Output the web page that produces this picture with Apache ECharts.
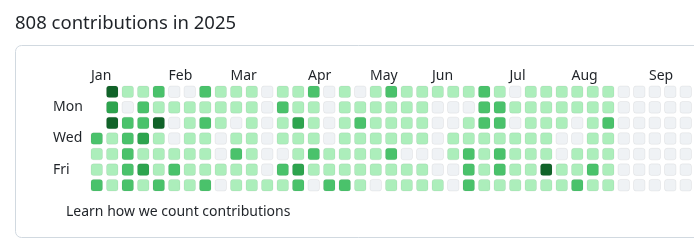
<!DOCTYPE html>
<html>
<head>
<meta charset="utf-8">
<style>
html,body{margin:0;padding:0;background:#fff;}
#chart{width:694px;height:241px;}
</style>
<script src="https://cdn.jsdelivr.net/npm/echarts@6/dist/echarts.min.js"></script>
</head>
<body>
<div id="chart"></div>
<script>
// Contribution level per day (0-4), one array per weekday row (Sun..Sat), one entry per week column.
// null = before Jan 1.
const sun = [null,4,1,1,2,0,0, 2,1,1,1,0,1,1, 2,0,1,0,1,2,1, 1,1,1,1,2,1,0, 1,1,1,1,1,1, 0,0,0,0,0];
const mon = [null,3,0,2,1,1,1, 1,1,1,1,0,2,1, 1,0,1,1,1,1,1, 1,0,0,0,2,2,1, 1,1,1,1,1,1, 0,0,0,0,0];
const tue = [null,4,2,2,4,0,1, 2,1,0,1,0,1,3, 1,0,1,2,1,1,1, 1,0,0,1,2,2,0, 1,1,1,0,1,2, 0,0,0,0,0];
const wed = [2,1,2,3,1,0,1, 1,0,1,1,0,1,1, 1,0,1,1,1,1,1, 1,0,1,1,1,1,1, 1,1,0,0,1,1, 0,0,0,0,0];
const thu = [1,1,2,1,1,1,1, 1,0,2,1,0,0,1, 2,1,1,1,1,2,0, 0,0,1,2,1,2,1, 1,1,0,1,1,1, 0,0,0,0,0];
const fri = [1,1,2,3,1,2,1, 1,1,1,1,0,2,3, 1,1,1,1,1,1,1, 1,0,0,2,1,2,1, 1,4,1,1,2,1, 0,0,0,0,0];
const sat = [2,1,2,1,2,1,1, 2,0,1,1,1,1,2, 0,2,2,1,0,1,1, 1,1,0,2,1,1,1, 1,1,1,2,1,1, 0,0,0,0,0];
const rows = [sun, mon, tue, wed, thu, fri, sat];

const monthLabels = ['Jan','Feb','Mar','Apr','May','Jun','Jul','Aug','Sep'];
const monthCols   = [0, 5, 9, 14, 18, 22, 27, 31, 36];
const dayLabels = ['Mon','Wed','Fri'];
const dayRows   = [1, 3, 5];
const levelColors = ['#eff2f5','#aceebb','#4ac26b','#2da44e','#116329'];

const weeks = sun.length;
const data = [];
rows.forEach((r, d) => r.forEach((v, w) => { if (v !== null) data.push([w, d, v]); }));

const font = '"Noto Sans", "Open Sans", sans-serif';
const chart = echarts.init(document.getElementById('chart'));
chart.setOption({
  animation: false,
  title: [
    {text: '808 contributions in 2025', left: 10, top: 9,
     textStyle: {fontFamily: font, fontSize: 18.5, fontWeight: 'normal', color: '#1f2328'}},
    {text: 'Learn how we count contributions', left: 61, top: 200,
     textStyle: {fontFamily: font, fontSize: 14, fontWeight: 'normal', color: '#1f2328'}}
  ],
  graphic: [{
    type: 'rect', z: -10,
    shape: {x: 15.5, y: 45.5, width: 720, height: 192, r: 6},
    style: {fill: '#fff', stroke: '#d1d9e0', lineWidth: 1}
  }],
  grid: {left: 89, top: 84, width: weeks * 15.5, height: 109},
  xAxis: {
    type: 'value', position: 'top', min: -0.5, max: weeks - 0.5,
    axisLine: {show: false}, axisTick: {show: false}, splitLine: {show: false},
    axisLabel: {
      customValues: monthCols.map(c => c - 0.37),
      formatter: v => monthLabels[monthCols.indexOf(Math.round(v + 0.37))] || '',
      align: 'left', margin: 1,
      fontFamily: font, fontSize: 14, color: '#1f2328'
    }
  },
  yAxis: {
    type: 'value', inverse: true, min: -0.5, max: 6.5,
    axisLine: {show: false}, axisTick: {show: false}, splitLine: {show: false},
    axisLabel: {
      customValues: dayRows,
      formatter: v => dayLabels[dayRows.indexOf(Math.round(v))] || '',
      align: 'left', margin: 36,
      fontFamily: font, fontSize: 14, color: '#1f2328'
    }
  },
  visualMap: {
    show: false, type: 'piecewise', dimension: 2,
    pieces: levelColors.map((c, i) => ({value: i, color: c}))
  },
  series: [{
    type: 'custom',
    data: data,
    encode: {x: 0, y: 1},
    renderItem: (params, api) => {
      const p = api.coord([api.value(0), api.value(1)]);
      const s = api.size([1, 1]);
      const w = s[0] - 4, h = s[1] - 4;
      return {
        type: 'rect',
        shape: {x: p[0] - w / 2, y: p[1] - h / 2, width: w, height: h, r: 2.5},
        style: {fill: api.visual('color'), stroke: 'rgba(31,35,40,0.06)', lineWidth: 1}
      };
    }
  }]
});
</script>
</body>
</html>
